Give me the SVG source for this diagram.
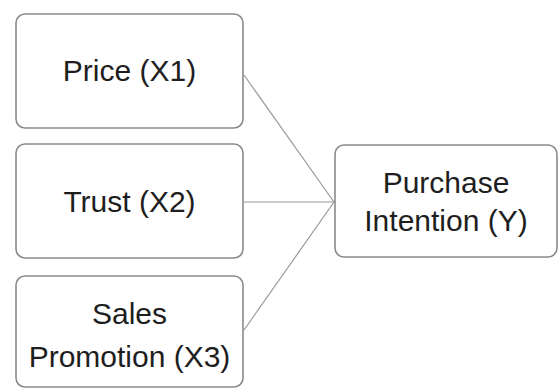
<svg xmlns="http://www.w3.org/2000/svg" width="560" height="389" viewBox="0 0 560 389">
<style>
.box{fill:#fff;stroke:#8a8a8a;stroke-width:1.6}
.lbl{font-family:"Liberation Sans",Arial,sans-serif;font-size:30px;fill:#1e1e1e;text-anchor:middle}
.edge{stroke:#9a9a9a;stroke-width:1.2;fill:none}
</style>
<rect width="560" height="389" fill="#fff"/>
<g id="connectors">
<line class="edge" x1="244" y1="75" x2="334" y2="202"/>
<line class="edge" x1="244" y1="202" x2="334" y2="202"/>
<line class="edge" x1="244" y1="330" x2="334" y2="202"/>
</g>
<g id="price">
<rect class="box" x="16" y="14" width="227" height="114" rx="9"/>
<text class="lbl" x="129.5" y="81">Price (X1)</text>
</g>
<g id="trust">
<rect class="box" x="16" y="144" width="227" height="114" rx="9"/>
<text class="lbl" x="129.5" y="212">Trust (X2)</text>
</g>
<g id="sales">
<rect class="box" x="16" y="276" width="227" height="111" rx="9"/>
<text class="lbl" x="129.5" y="324">Sales</text>
<text class="lbl" x="129.5" y="367">Promotion (X3)</text>
</g>
<g id="purchase">
<rect class="box" x="335" y="145" width="222" height="112" rx="9"/>
<text class="lbl" x="446" y="193">Purchase</text>
<text class="lbl" x="446" y="231">Intention (Y)</text>
</g>
</svg>
